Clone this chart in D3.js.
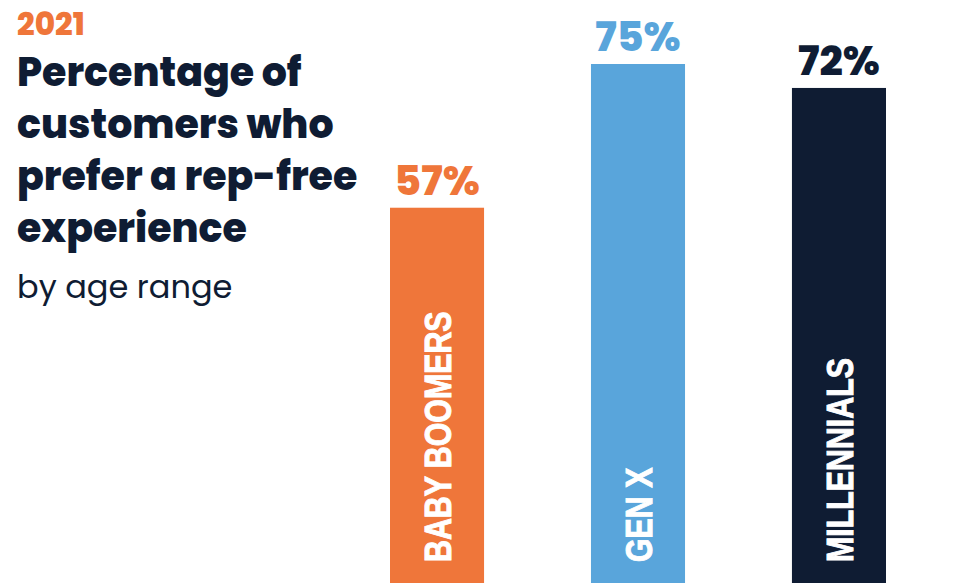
<!DOCTYPE html>
<html>
<head>
<meta charset="utf-8">
<title>Rep-free experience by age range</title>
<script src="https://d3js.org/d3.v7.min.js"></script>
<style>
  body { margin: 0; background: #fff; }
  svg { display: block; }
  .head { font-family: Poppins, Inter, "Open Sans", sans-serif; }
</style>
</head>
<body>
<div id="chart"></div>
<script>
// data
var categories = ["BABY BOOMERS", "GEN X", "MILLENNIALS"];
var values = [57, 75, 72];
var valueLabels = ["57%", "75%", "72%"];
var yearLabel = "2021";
var titleLines = ["Percentage of", "customers who", "prefer a rep-free", "experience"];
var subtitle = "by age range";

var width = 965, height = 583;
var navy = "#0f1c33";

var svg = d3.select("#chart")
    .append("svg")
    .attr("width", width)
    .attr("height", height)
    .attr("viewBox", [0, 0, width, height]);

var color = d3.scaleOrdinal()
    .domain(categories)
    .range(["#ef763a", "#59a5db", "#0f1c33"]);

var xScale = d3.scaleBand()
    .domain(categories)
    .range([390, 886])
    .paddingInner(0.532)
    .paddingOuter(0);

var yScale = d3.scaleLinear()
    .domain([10, 75])
    .range([height, 64]);

var rows = categories.map((c, i) => ({ cat: c, value: values[i], label: valueLabels[i] }));

// header text
svg.append("text")
    .attr("class", "head")
    .attr("x", 17)
    .attr("y", 35)
    .attr("fill", "#ef763a")
    .style("font-size", "31px")
    .style("font-weight", 800)
    .text(yearLabel);

svg.append("g")
    .selectAll("text")
    .data(titleLines)
    .enter()
    .append("text")
    .attr("class", "head")
    .attr("x", 17)
    .attr("y", (d, i) => 86 + i * 52)
    .attr("fill", navy)
    .style("font-size", "39.5px")
    .style("font-weight", 800)
    .text(d => d);

svg.append("text")
    .attr("class", "head")
    .attr("x", 17)
    .attr("y", 298)
    .attr("fill", navy)
    .style("font-size", "32px")
    .style("font-weight", 400)
    .text(subtitle);

// bars
svg.append("g")
    .selectAll("rect")
    .data(rows)
    .enter()
    .append("rect")
    .attr("x", d => xScale(d.cat))
    .attr("y", d => yScale(d.value))
    .attr("width", xScale.bandwidth())
    .attr("height", d => height - yScale(d.value))
    .attr("fill", d => color(d.cat));

// value labels
svg.append("g")
    .selectAll("text")
    .data(rows)
    .enter()
    .append("text")
    .attr("class", "head")
    .attr("x", d => xScale(d.cat) + xScale.bandwidth() / 2)
    .attr("y", d => yScale(d.value) - 13)
    .attr("text-anchor", "middle")
    .attr("fill", d => color(d.cat))
    .style("font-size", "41px")
    .style("font-weight", 800)
    .text(d => d.label);

// category labels inside bars (condensed)
svg.append("g")
    .selectAll("text")
    .data(rows)
    .enter()
    .append("text")
    .attr("transform", d => "translate(" + (xScale(d.cat) + xScale.bandwidth() / 2 + 14) + "," + 562 + ") rotate(-90) scale(0.82,1)")
    .attr("fill", "#fff")
    .attr("stroke", "#fff")
    .attr("stroke-width", 1)
    .style("font-family", "'Liberation Sans', Arial, sans-serif")
    .style("font-size", "37px")
    .style("font-weight", 700)
    .text(d => d.cat);
</script>
</body>
</html>
